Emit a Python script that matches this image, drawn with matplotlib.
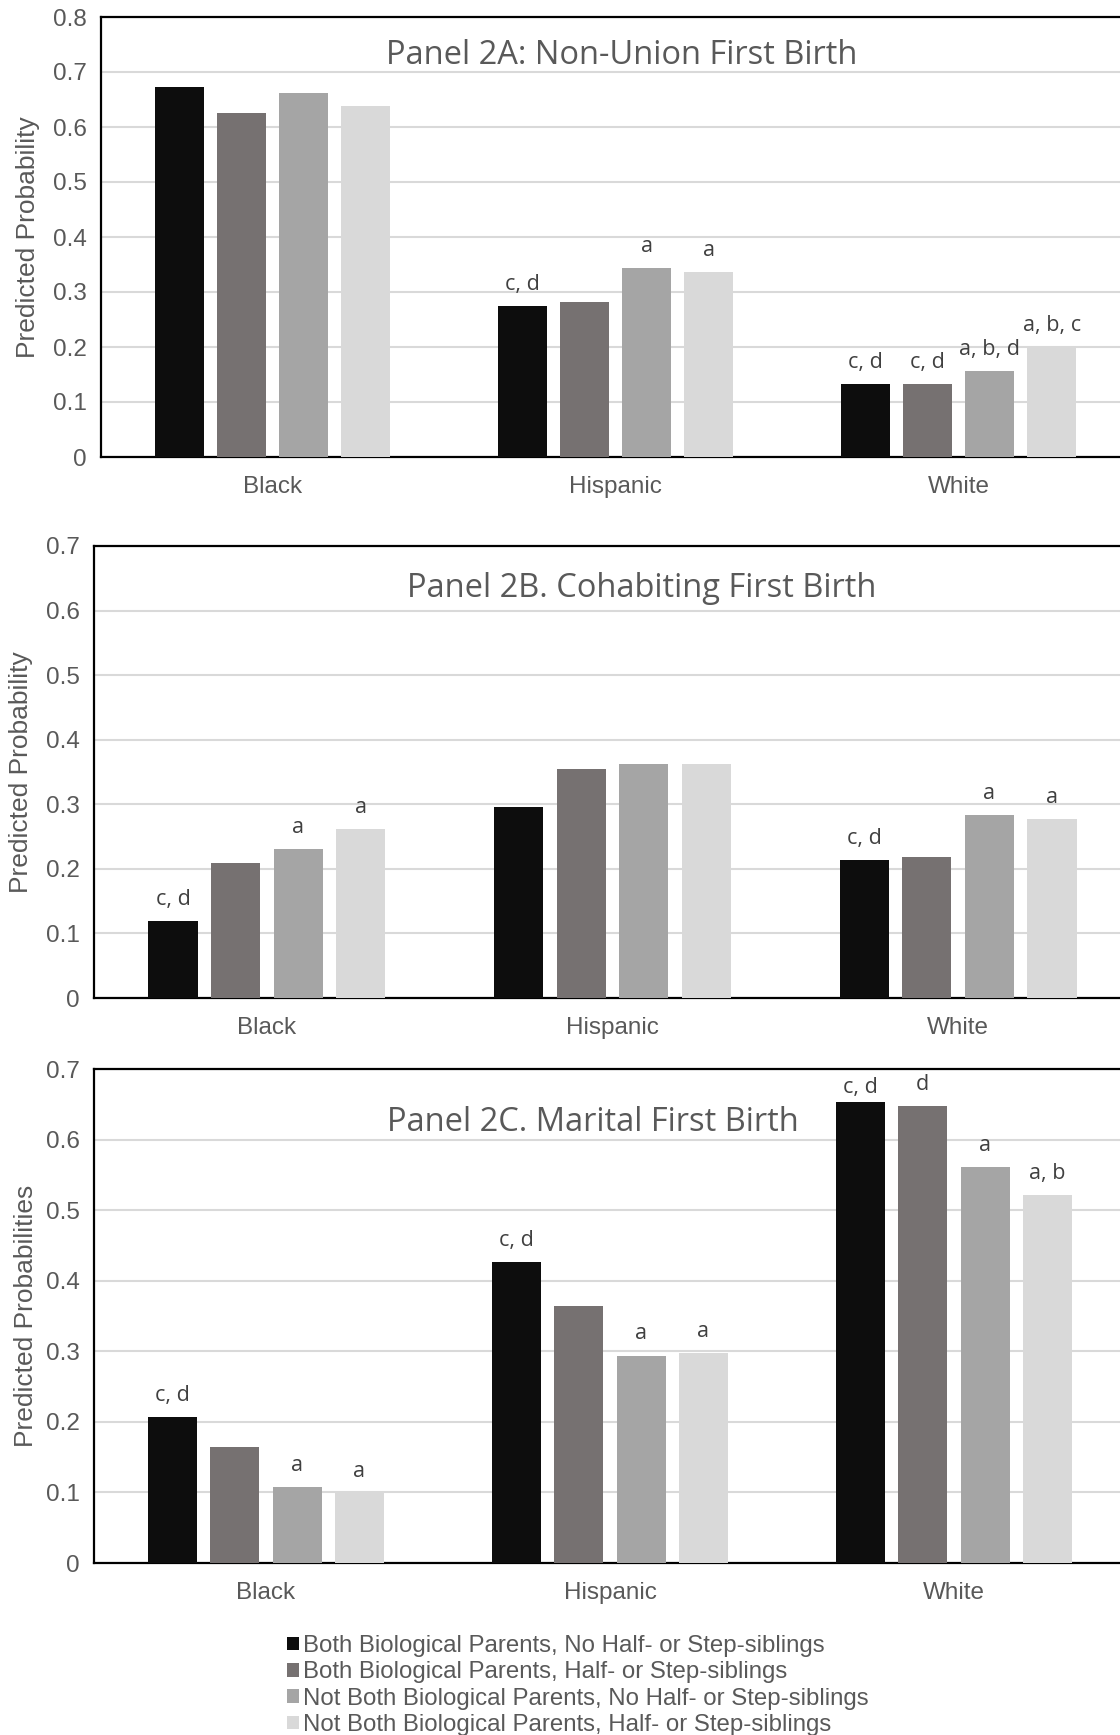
import matplotlib.pyplot as plt
import numpy as np

plt.rcParams['font.family'] = ['Liberation Sans', 'DejaVu Sans']

groups = ['Black', 'Hispanic', 'White']
series = [
    'Both Biological Parents, No Half- or Step-siblings',
    'Both Biological Parents, Half- or Step-siblings',
    'Not Both Biological Parents, No Half- or Step-siblings',
    'Not Both Biological Parents, Half- or Step-siblings',
]
colors = ['#0d0d0d', '#767171', '#a5a5a5', '#d9d9d9']

# values per panel: rows = series, cols = groups
nonunion = [
    [0.673, 0.275, 0.132],
    [0.626, 0.281, 0.133],
    [0.661, 0.343, 0.156],
    [0.638, 0.337, 0.200],
]
nonunion_notes = [
    ['', 'c, d', 'c, d'],
    ['', '', 'c, d'],
    ['', 'a', 'a, b, d'],
    ['', 'a', 'a, b, c'],
]

cohab = [
    [0.119, 0.296, 0.213],
    [0.209, 0.354, 0.218],
    [0.230, 0.363, 0.283],
    [0.261, 0.363, 0.277],
]
cohab_notes = [
    ['c, d', '', 'c, d'],
    ['', '', ''],
    ['a', '', 'a'],
    ['a', '', 'a'],
]

marital = [
    [0.207, 0.427, 0.653],
    [0.165, 0.364, 0.648],
    [0.107, 0.294, 0.561],
    [0.099, 0.298, 0.521],
]
marital_notes = [
    ['c, d', 'c, d', 'c, d'],
    ['', '', 'd'],
    ['a', 'a', 'a'],
    ['a', 'a', 'a, b'],
]

W, H = 1120, 1735
fig = plt.figure(figsize=(W / 100, H / 100), dpi=100)


def make_axes(left, right, top, bottom):
    return fig.add_axes([left / W, 1 - bottom / H, (right - left) / W, (bottom - top) / H])


def panel(ax, vals, notes, ymax, title, title_xy, ylabel, ypad):
    x = np.arange(len(groups))
    step = 0.181
    width = 0.142
    bars = []
    for i, (v, c) in enumerate(zip(vals, colors)):
        pos = x + (i - 1.5) * step
        b = ax.bar(pos, v, width, color=c, zorder=3, label=series[i])
        bars.append(b)
        for xi, yi, t in zip(pos, v, notes[i]):
            if t:
                # keep labels inside the frame when the bar is near the top
                off = 8 if yi < ymax - 0.05 else 3
                ax.annotate(t, (xi, yi), xytext=(0, off), textcoords='offset points',
                            ha='center', va='bottom', fontsize=15.5,
                            family='Open Sans', color='#404040')
    ax.set_xlim(-0.5, 2.5)
    ax.set_ylim(0, ymax)
    ax.set_yticks(np.arange(0, ymax + 0.001, 0.1))
    ax.set_yticklabels(['0'] + ['%.1f' % t for t in np.arange(0.1, ymax + 0.001, 0.1)])
    ax.set_xticks(x)
    ax.set_xticklabels(groups)
    ax.tick_params(length=0, labelsize=17.5, labelcolor='#595959')
    ax.tick_params(axis='x', pad=14)
    ax.tick_params(axis='y', pad=10)
    ax.grid(axis='y', color='#d9d9d9', lw=1.5, zorder=0)
    for s in ['top', 'left', 'bottom']:
        ax.spines[s].set_linewidth(1.6)
        ax.spines[s].set_color('black')
    ax.spines['right'].set_visible(False)
    ax.set_ylabel(ylabel, fontsize=19, color='#595959', labelpad=ypad)
    ax.text(title_xy[0], title_xy[1], title, transform=ax.transAxes, ha='center',
            va='center', fontsize=23.5, family='Open Sans', color='#595959')
    return bars


ax1 = make_axes(101, 1130, 17, 457)
panel(ax1, nonunion, nonunion_notes, 0.8, 'Panel 2A: Non-Union First Birth',
      (0.506, 0.9125), 'Predicted Probability', 9.5)

ax2 = make_axes(94, 1131, 546, 998)
panel(ax2, cohab, cohab_notes, 0.7, 'Panel 2B. Cohabiting First Birth',
      (0.528, 0.906), 'Predicted Probability', 9.5)

ax3 = make_axes(94, 1126, 1069, 1563)
bars = panel(ax3, marital, marital_notes, 0.7, 'Panel 2C. Marital First Birth',
             (0.483, 0.892), 'Predicted Probabilities', 6)

fig.legend(bars, series, loc='upper left', bbox_to_anchor=(275 / W, 1 - 1623 / H),
           frameon=False, fontsize=17.3, labelcolor='#595959', handlelength=0.5,
           handleheight=0.5, handletextpad=0.15, labelspacing=0.18, borderpad=0)

fig.savefig('out.png', dpi=100)
